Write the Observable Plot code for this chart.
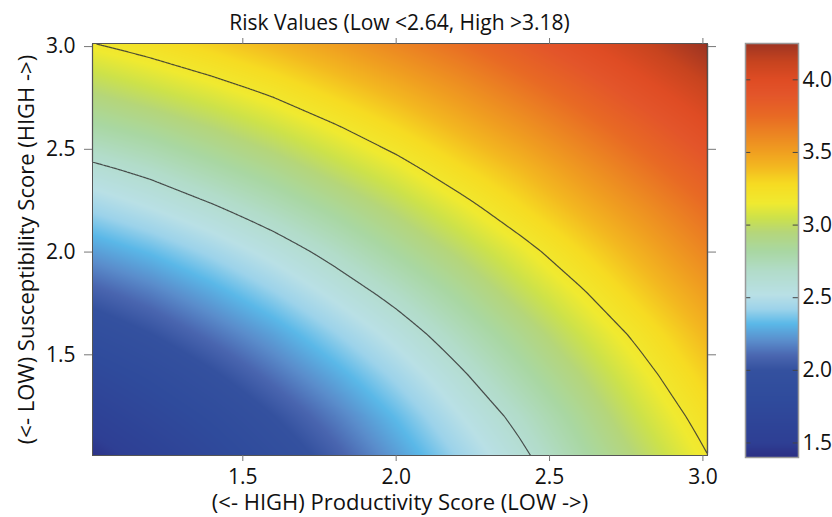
<!DOCTYPE html>
<html><head><meta charset="utf-8">
<script src="https://cdn.jsdelivr.net/npm/d3@7"></script>
<script src="https://cdn.jsdelivr.net/npm/@observablehq/plot@0.6"></script>
<style>
body{margin:0;background:#fff;}
#wrap{position:relative;width:832px;height:517px;font-family:"Open Sans",sans-serif;}
#title{position:absolute;left:92px;width:615px;top:12px;text-align:center;font-size:21px;line-height:21px;color:#111;}
#main{position:absolute;left:0;top:0;}
#bar{position:absolute;left:740px;top:0;}
</style></head><body>
<div id="wrap"><div id="title">Risk Values (Low &lt;2.64, High &gt;3.18)</div><div id="main"></div><div id="bar"></div></div>
<script>
// Score grid (both productivity and susceptibility)
const scoreSteps = [1.0, 1.2, 1.4, 1.6, 1.8, 2.0, 2.2, 2.4, 2.6, 2.8, 3.0];
// Risk values: one row per susceptibility step, columns = productivity steps
const riskRows = [
  [1.41, 1.56, 1.72, 1.89, 2.06, 2.24, 2.42, 2.60, 2.79, 2.97, 3.16],
  [1.56, 1.70, 1.84, 2.00, 2.16, 2.33, 2.51, 2.68, 2.86, 3.05, 3.23],
  [1.72, 1.84, 1.98, 2.13, 2.28, 2.44, 2.61, 2.78, 2.95, 3.13, 3.31],
  [1.89, 2.00, 2.13, 2.26, 2.41, 2.56, 2.72, 2.88, 3.05, 3.22, 3.40],
  [2.06, 2.16, 2.28, 2.41, 2.55, 2.69, 2.84, 3.00, 3.16, 3.33, 3.50],
  [2.24, 2.33, 2.44, 2.56, 2.69, 2.83, 2.97, 3.12, 3.28, 3.44, 3.61],
  [2.42, 2.51, 2.61, 2.72, 2.84, 2.97, 3.11, 3.26, 3.41, 3.56, 3.72],
  [2.60, 2.68, 2.78, 2.88, 3.00, 3.12, 3.26, 3.39, 3.54, 3.69, 3.84],
  [2.79, 2.86, 2.95, 3.05, 3.16, 3.28, 3.41, 3.54, 3.68, 3.82, 3.97],
  [2.97, 3.05, 3.13, 3.22, 3.33, 3.44, 3.56, 3.69, 3.82, 3.96, 4.10],
  [3.16, 3.23, 3.31, 3.40, 3.50, 3.61, 3.72, 3.84, 3.97, 4.10, 4.24]
];
const riskThresholds = [2.64, 3.18];
const xTicks = [1.5, 2.0, 2.5, 3.0];
const yTicks = [1.5, 2.0, 2.5, 3.0];
const barTicks = [1.5, 2.0, 2.5, 3.0, 3.5, 4.0];
const xLabel = "(<- HIGH) Productivity Score (LOW ->)";
const yLabel = "(<- LOW) Susceptibility Score (HIGH ->)";
const colorStops = [1.40, 1.50, 1.80, 2.00, 2.10, 2.20, 2.32, 2.42, 2.52, 2.68, 2.82, 2.95, 3.05, 3.15, 3.28, 3.40, 3.50, 3.62, 3.75, 3.90, 4.00, 4.12, 4.25];
const colorRange = ["#2c2f84", "#2e3f94", "#2f4b9c", "#34519f", "#4a66b0", "#5a8ccb", "#5ab8e8", "#9cd3ea", "#b9e0e6", "#b2dcca", "#a9d7a2", "#b5d67a", "#cde24a", "#f0ea30", "#f6dc22", "#f3b820", "#f0a020", "#ec8622", "#e86a24", "#e3552a", "#df4c24", "#c8441f", "#9e3522"];

// bilinear lookup into the grid (edge cells continue linearly just past the grid), used by raster and contour
function riskAt(p, s) {
  const n = scoreSteps.length - 1;
  const lo = scoreSteps[0], hi = scoreSteps[n];
  const fx = (p - lo) / (hi - lo) * n;
  const fy = (s - lo) / (hi - lo) * n;
  const j0 = Math.max(0, Math.min(n - 1, Math.floor(fx))), i0 = Math.max(0, Math.min(n - 1, Math.floor(fy)));
  const tx = fx - j0, ty = fy - i0;
  const r0 = riskRows[i0], r1 = riskRows[i0 + 1];
  return (1 - ty) * ((1 - tx) * r0[j0] + tx * r0[j0 + 1]) + ty * ((1 - tx) * r1[j0] + tx * r1[j0 + 1]);
}

const colorScale = {type: "linear", domain: colorStops, range: colorRange, clamp: true};
const fmt = d3.format(".1f");
const style = {fontFamily: "'Open Sans', sans-serif", fontSize: "21px", color: "#111", background: "transparent", overflow: "visible"};
const xDom = [1.01, 3.015], yDom = [1.01, 3.015];

const main = Plot.plot({
  width: 740, height: 517,
  marginTop: 43, marginLeft: 92, marginRight: 33, marginBottom: 62,
  x: {domain: xDom},
  y: {domain: yDom},
  color: colorScale,
  style,
  marks: [
    Plot.raster({fill: riskAt, x1: xDom[0], x2: xDom[1], y1: yDom[0], y2: yDom[1]}),
    Plot.contour({value: riskAt, x1: xDom[0], x2: xDom[1], y1: yDom[0], y2: yDom[1], pixelSize: 1, thresholds: riskThresholds, fill: "none", stroke: "#333", strokeWidth: 1.2, strokeOpacity: 0.85}),
    Plot.frame({stroke: "#555"}),
    Plot.axisX({ticks: xTicks, tickFormat: fmt, tickSize: 6, tickPadding: 8, label: null, stroke: "#777"}),
    Plot.axisX({anchor: "top", ticks: xTicks, tickFormat: () => "", tickSize: 6, label: null, stroke: "#777"}),
    Plot.axisY({ticks: yTicks, tickFormat: fmt, tickSize: 8, tickPadding: 9, label: null, stroke: "#777"}),
    Plot.axisY({anchor: "right", ticks: yTicks, tickFormat: () => "", tickSize: 8, label: null, stroke: "#777"}),
    Plot.text([xLabel], {frameAnchor: "bottom", textAnchor: "middle", dy: 54, fontSize: 22, text: d => d}),
    Plot.text([yLabel], {frameAnchor: "left", textAnchor: "middle", dx: -66, rotate: -90, fontSize: 22, text: d => d})
  ]
});
document.getElementById("main").appendChild(main);

const bar = Plot.plot({
  width: 92, height: 517,
  marginTop: 43, marginBottom: 60, marginLeft: 5, marginRight: 34,
  x: {domain: [0, 1], axis: null},
  y: {domain: [1.40, 4.25]},
  color: colorScale,
  style,
  marks: [
    Plot.raster({fill: (x, y) => y, x1: 0, x2: 1, y1: 1.40, y2: 4.25}),
    Plot.ruleY(barTicks, {x1: 0, x2: 0.1, stroke: "#444"}),
    Plot.ruleY(barTicks, {x1: 0.9, x2: 1, stroke: "#444"}),
    Plot.frame({stroke: "#999", strokeWidth: 1.5}),
    Plot.axisY({anchor: "right", ticks: barTicks, tickFormat: fmt, tickSize: 0, tickPadding: 4, label: null})
  ]
});
document.getElementById("bar").appendChild(bar);
</script>
</body></html>
